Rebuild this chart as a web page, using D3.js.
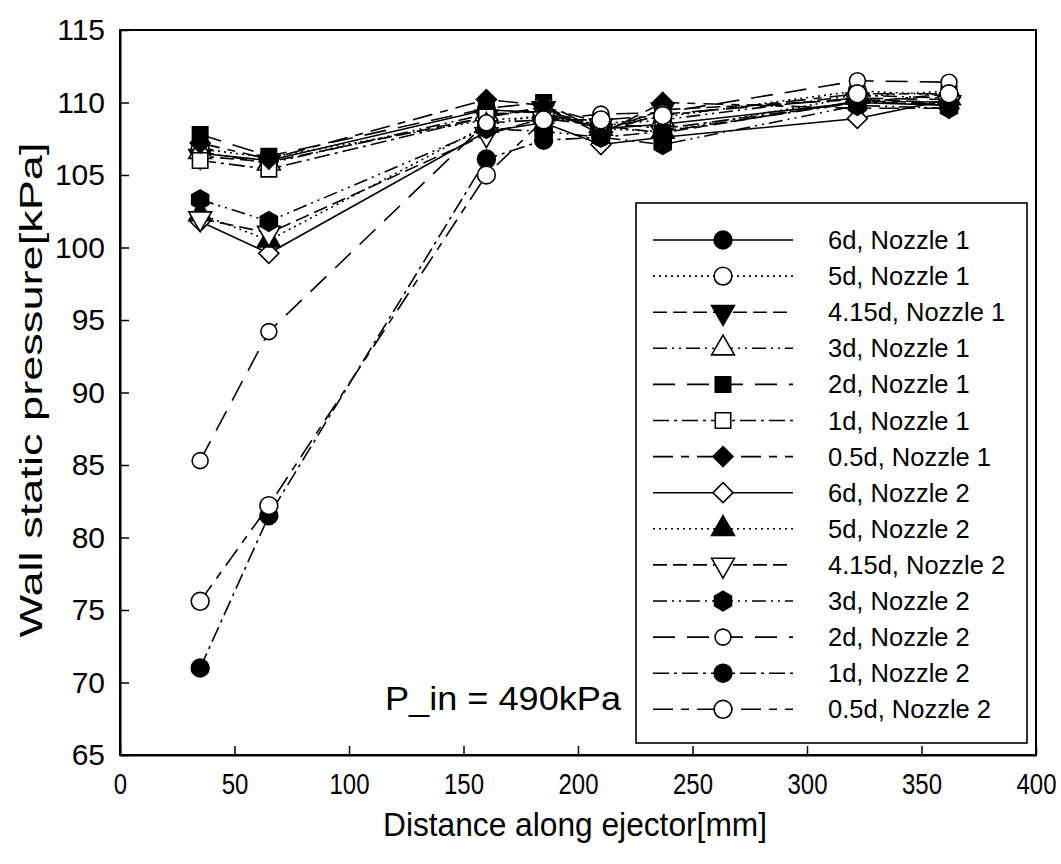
<!DOCTYPE html>
<html>
<head>
<meta charset="utf-8">
<script src="https://cdn.jsdelivr.net/npm/d3@7"></script>
<style>
	body { margin: 0; background: #fff; }
	svg { display: block; font-family: "Liberation Sans", Arial, sans-serif; }
</style>
</head>
<body>
<svg id="svg1" width="1061" height="864"></svg>
<script>
// measuring stations along the ejector [mm]
distances = [35, 65, 160, 185, 210, 237, 322, 362];

x_ticks = [0, 50, 100, 150, 200, 250, 300, 350, 400];
y_ticks = [65, 70, 75, 80, 85, 90, 95, 100, 105, 110, 115];

series_names = [
	"6d, Nozzle 1", "5d, Nozzle 1", "4.15d, Nozzle 1", "3d, Nozzle 1",
	"2d, Nozzle 1", "1d, Nozzle 1", "0.5d, Nozzle 1",
	"6d, Nozzle 2", "5d, Nozzle 2", "4.15d, Nozzle 2", "3d, Nozzle 2",
	"2d, Nozzle 2", "1d, Nozzle 2", "0.5d, Nozzle 2"
];

// wall static pressure [kPa], one array per series
p_6d_n1   = [106.5, 106.0, 109.5, 109.3, 108.2, 108.5, 110.0, 109.8];
p_5d_n1   = [106.8, 106.2, 108.8, 109.0, 108.5, 109.0, 110.8, 110.5];
p_415d_n1 = [106.3, 105.9, 109.0, 109.6, 108.0, 109.5, 110.2, 110.0];
p_3d_n1   = [106.6, 105.8, 109.2, 109.4, 108.4, 108.8, 110.5, 110.3];
p_2d_n1   = [107.8, 106.3, 109.6, 110.0, 108.0, 109.2, 110.3, 110.2];
p_1d_n1   = [106.0, 105.4, 109.0, 109.7, 108.6, 108.2, 110.0, 110.6];
p_05d_n1  = [107.2, 106.1, 110.2, 109.8, 107.8, 110.0, 109.6, 109.6];
p_6d_n2   = [101.8, 99.6, 108.0, 108.6, 107.1, 107.6, 108.9, 110.2];
p_5d_n2   = [102.3, 100.5, 108.4, 109.2, 108.2, 108.0, 110.4, 110.8];
p_415d_n2 = [102.0, 101.0, 107.8, 108.9, 108.4, 107.9, 110.1, 110.0];
p_3d_n2   = [103.3, 101.8, 108.2, 108.0, 107.6, 107.1, 109.8, 109.6];
p_2d_n2   = [85.3, 94.2, 108.6, 108.8, 109.2, 109.3, 111.5, 111.4];
p_1d_n2   = [71.0, 81.5, 106.1, 107.4, 107.6, 108.0, 110.0, 109.9];
p_05d_n2  = [75.6, 82.2, 105.0, 108.8, 108.8, 109.1, 110.6, 110.6];

series_values = [p_6d_n1, p_5d_n1, p_415d_n1, p_3d_n1, p_2d_n1, p_1d_n1, p_05d_n1,
	p_6d_n2, p_5d_n2, p_415d_n2, p_3d_n2, p_2d_n2, p_1d_n2, p_05d_n2];

// line / marker style per series
dash_styles = ["", "2,4", "14,6", "14,5,2,5,2,5", "22,12", "16,5,3,5", "20,8,8,8",
	"", "2,4", "14,6", "14,5,2,5,2,5", "22,12", "16,5,3,5", "20,8,8,8"];
marker_shapes = ["circle", "circle", "tri_down", "tri_up", "square", "square", "diamond",
	"diamond", "tri_up", "tri_down", "hexagon", "circle_small", "circle", "circle"];
marker_filled = [true, false, true, false, true, false, true,
	false, true, false, true, false, true, false];

settings = {
	width : 1061,
	height : 864,
	left : 120,
	right : 1036,
	top : 30,
	bottom : 755,
	markerSize : 250
}

symbolHexagon = {
	draw: function(context, size) {
		var r = Math.sqrt(size / (1.5 * Math.sqrt(3)));
		for (var k = 0; k < 6; k++) {
			var a = -Math.PI / 2 + k * Math.PI / 3;
			if (k == 0) context.moveTo(r * Math.cos(a), r * Math.sin(a));
			else context.lineTo(r * Math.cos(a), r * Math.sin(a));
		}
		context.closePath();
	}
};

function marker_path(shape) {
	if (shape == "circle") return d3.symbol().type(d3.symbolCircle).size(settings.markerSize)();
	if (shape == "circle_small") return d3.symbol().type(d3.symbolCircle).size(settings.markerSize * 0.8)();
	if (shape == "square") return d3.symbol().type(d3.symbolSquare).size(settings.markerSize * 0.95)();
	if (shape == "diamond") return d3.symbol().type(d3.symbolSquare).size(settings.markerSize * 0.8)();
	if (shape == "hexagon") return d3.symbol().type(symbolHexagon).size(settings.markerSize)();
	return d3.symbol().type(d3.symbolTriangle).size(settings.markerSize * 0.9)();
}

function marker_rotation(shape) {
	if (shape == "diamond") return 45;
	if (shape == "tri_down") return 180;
	return 0;
}

function draw_marker(g, shape, filled, cx, cy) {
	g.append("path")
		.attr("d", marker_path(shape))
		.attr("transform", "translate(" + cx + "," + cy + ") rotate(" + marker_rotation(shape) + ")")
		.attr("fill", filled ? "#000" : "#fff")
		.attr("stroke", "#000")
		.attr("stroke-width", 1.6);
}

function show_chart() {
	var x = d3.scaleLinear().domain([0, 400]).range([settings.left, settings.right]);
	var y = d3.scaleLinear().domain([65, 115]).range([settings.bottom, settings.top]);

	svg = d3.select("#svg1");

	// frame
	svg.append("rect")
		.attr("x", settings.left).attr("y", settings.top)
		.attr("width", settings.right - settings.left)
		.attr("height", settings.bottom - settings.top)
		.attr("fill", "none").attr("stroke", "#000").attr("stroke-width", 2);

	// axes, ticks pointing inwards
	var xAxis = svg.append("g")
		.attr("transform", "translate(0," + settings.bottom + ")")
		.call(d3.axisBottom(x).tickValues(x_ticks).tickSizeInner(-9).tickSizeOuter(0).tickPadding(18));
	var yAxis = svg.append("g")
		.attr("transform", "translate(" + settings.left + ",0)")
		.call(d3.axisLeft(y).tickValues(y_ticks).tickSizeInner(-9).tickSizeOuter(0).tickPadding(15));

	[xAxis, yAxis].forEach(function(a) {
		a.select(".domain").attr("stroke-width", 2);
		a.selectAll(".tick line").attr("stroke-width", 1.5);
		a.selectAll(".tick text").attr("fill", "#000").attr("font-family", "Liberation Sans, Arial, sans-serif");
	});
	xAxis.selectAll(".tick text").attr("font-size", 30).attr("transform", "scale(0.8,1)");
	yAxis.selectAll(".tick text").attr("font-size", 30);

	// axis titles
	svg.append("text")
		.attr("x", 575).attr("y", 836)
		.attr("text-anchor", "middle")
		.attr("font-size", 34)
		.attr("textLength", 384).attr("lengthAdjust", "spacingAndGlyphs")
		.text("Distance along ejector[mm]");
	svg.append("text")
		.attr("transform", "translate(42,390) rotate(-90)")
		.attr("text-anchor", "middle")
		.attr("font-size", 32)
		.attr("textLength", 495).attr("lengthAdjust", "spacingAndGlyphs")
		.text("Wall static pressure[kPa]");

	// lines
	var line = d3.line().x((d, i) => x(distances[i])).y(d => y(d));
	var lines = svg.append("g");
	series_values.forEach(function(vals, s) {
		lines.append("path")
			.attr("d", line(vals))
			.attr("fill", "none")
			.attr("stroke", "#000")
			.attr("stroke-width", 1.6)
			.attr("stroke-dasharray", dash_styles[s] || null);
	});

	// markers
	var marks = svg.append("g");
	series_values.forEach(function(vals, s) {
		vals.forEach(function(v, i) {
			draw_marker(marks, marker_shapes[s], marker_filled[s], x(distances[i]), y(v));
		});
	});

	// annotation
	svg.append("text")
		.attr("x", 385).attr("y", 710)
		.attr("font-size", 34)
		.attr("textLength", 236).attr("lengthAdjust", "spacingAndGlyphs")
		.text("P_in = 490kPa");

	// legend
	var legend = svg.append("g");
	legend.append("rect")
		.attr("x", 636).attr("y", 203).attr("width", 391).attr("height", 540)
		.attr("fill", "#fff").attr("stroke", "#000").attr("stroke-width", 1.6);

	series_names.forEach(function(name, s) {
		var ly = 240 + s * 36.1;
		legend.append("line")
			.attr("x1", 653).attr("x2", 793).attr("y1", ly).attr("y2", ly)
			.attr("stroke", "#000").attr("stroke-width", 1.6)
			.attr("stroke-dasharray", dash_styles[s] || null);
		draw_marker(legend, marker_shapes[s], marker_filled[s], 723, ly);
		legend.append("text")
			.attr("x", 828).attr("y", ly + 9)
			.attr("font-size", 25.5)
			.text(name);
	});
}

show_chart();
</script>
</body>
</html>
